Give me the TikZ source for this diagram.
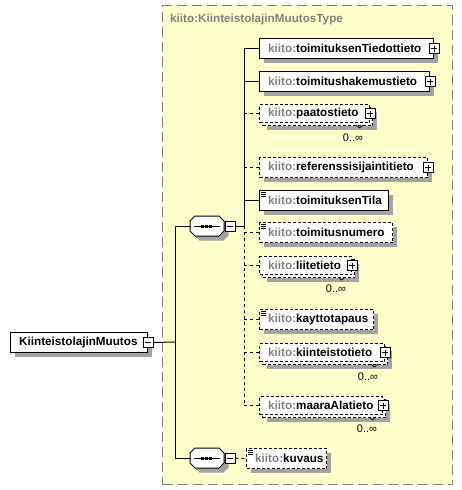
\documentclass[tikz,border=0pt]{standalone}
\usepackage{fontspec}
\setmainfont{Liberation Sans}
\definecolor{yel}{RGB}{255,255,204}
\definecolor{bgray}{RGB}{128,128,128}
\colorlet{shadecol}{black!36}
\newcommand{\pfx}{\textcolor{bgray}{kiito:}}
\newcommand{\shadowrect}[4]{\fill[shadecol] (#1+4.5,#2+4.5) rectangle (#1+#3+4.5,#2+#4+4.5);}
\tikzset{
  every node/.style={font=\fontsize{11.7}{13}\selectfont\bfseries, inner sep=0pt},
  container/.style={draw=bgray, fill=yel, line width=1.3pt, dash pattern=on 10pt off 5pt, anchor=north west},
  ttl/.style={text=bgray, anchor=west},
  ebox/.style={draw=black, fill=white, line width=1pt, anchor=north west, minimum height=20pt},
  obox/.style={ebox, dash pattern=on 3pt off 2pt},
  mfront/.style={draw=black, fill=white, line width=1pt, anchor=north west, minimum height=18pt, dash pattern=on 3pt off 2pt},
  mback/.style={mfront},
  lbl/.style={anchor=west},
  mult/.style={font=\fontsize{11}{13}\selectfont},
  pluss/.style={draw=black, fill=white, line width=1pt, minimum size=10pt,
    path picture={\draw[line width=1pt] ([xshift=2pt]path picture bounding box.west) -- ([xshift=-2pt]path picture bounding box.east);
                  \draw[line width=1pt] ([yshift=-2pt]path picture bounding box.north) -- ([yshift=2pt]path picture bounding box.south);}},
  minuss/.style={draw=black, fill=white, line width=1pt, minimum width=10pt, minimum height=10pt,
    path picture={\draw[line width=1pt] ([xshift=2pt]path picture bounding box.west) -- ([xshift=-2pt]path picture bounding box.east);}},
  seqanchor/.style={minimum width=34pt, minimum height=20pt},
  seqshape/.style={draw=black, fill=white, line width=1pt},
  conn/.style={draw=black, line width=1pt},
  oconn/.style={conn, dash pattern=on 3pt off 3pt},
  simpleicon/.style={line width=0.8pt},
  tick/.style={line width=0.7pt}
}
\begin{document}
\begin{tikzpicture}[x=1pt,y=-1pt]
\useasboundingbox (0,0) rectangle (462,490);
% container
\node[container, minimum width=290pt, minimum height=479pt] (ct) at (162,5) {};
\node[ttl] (title) at (170,19) {kiito:KiinteistolajinMuutosType};

% root
\shadowrect{10}{332}{137}{20}
\node[ebox, minimum width=137pt] (root) at (10,332) {};
\node[lbl] (roott) at (19,342) {KiinteistolajinMuutos};
\node[minuss] (rm) at (root.east) {};

% sequences
\fill[shadecol] (199.5,220.5) -- (223.5,220.5) -- (228.5,225.5) -- (228.5,235.5) -- (223.5,240.5) -- (199.5,240.5) -- (194.5,235.5) -- (194.5,225.5) -- cycle;
\node[seqanchor] (s1) at (207,226) {};
\draw[seqshape] (195,216) -- (219,216) -- (224,221) -- (224,231) -- (219,236) -- (195,236) -- (190,231) -- (190,221) -- cycle;
\draw[line width=1pt] (194,226) -- (220,226);
\fill (200.5,224.5) rectangle ++(3,3);
\fill (204.5,224.5) rectangle ++(3,3);
\fill (208.5,224.5) rectangle ++(3,3);
\node[minuss, anchor=west] (m1) at (224.5,226) {};

\fill[shadecol] (199.5,452.5) -- (223.5,452.5) -- (228.5,457.5) -- (228.5,467.5) -- (223.5,472.5) -- (199.5,472.5) -- (194.5,467.5) -- (194.5,457.5) -- cycle;
\node[seqanchor] (s2) at (207,458) {};
\draw[seqshape] (195,448) -- (219,448) -- (224,453) -- (224,463) -- (219,468) -- (195,468) -- (190,463) -- (190,453) -- cycle;
\draw[line width=1pt] (194,458) -- (220,458);
\fill (200.5,456.5) rectangle ++(3,3);
\fill (204.5,456.5) rectangle ++(3,3);
\fill (208.5,456.5) rectangle ++(3,3);
\node[minuss, anchor=west] (m2) at (224.5,458) {};

% elements
\shadowrect{259}{38}{174}{20}
\node[ebox, minimum width=174pt] (e1) at (259,38) {};
\node[lbl] (e1t) at (268,48) {\pfx toimituksenTiedottieto};
\node[pluss] (e1p) at (e1.east) {};

\shadowrect{259}{71}{170}{20}
\node[ebox, minimum width=170pt] (e2) at (259,71) {};
\node[lbl] (e2t) at (268,81) {\pfx toimitushakemustieto};
\node[pluss] (e2p) at (e2.east) {};

\shadowrect{262}{107}{110}{18}
\node[mback, minimum width=110pt] (e3b) at (262,107) {};
\node[mfront, minimum width=110pt] (e3) at (259,104) {};
\node[lbl] (e3t) at (268,113) {\pfx paatostieto};
\node[pluss] (e3p) at (e3.east) {};
\draw[tick] (356,125) -- (359.5,128) -- (363,125);
\node[mult] (e3m) at (353,138) {0..∞};

\shadowrect{259}{157}{168}{20}
\node[obox, minimum width=168pt] (e4) at (259,157) {};
\node[lbl] (e4t) at (268,167) {\pfx referenssisijaintitieto};
\node[pluss] (e4p) at (e4.east) {};

\shadowrect{259}{190}{129}{20}
\node[ebox, minimum width=129pt] (e5) at (259,190) {};
\draw[simpleicon] (261,192.5) -- (266,192.5) (261,194.5) -- (266,194.5) (261,196.5) -- (266,196.5);
\node[lbl] (e5t) at (268,200) {\pfx toimituksenTila};

\shadowrect{259}{222}{133}{20}
\node[obox, minimum width=133pt] (e6) at (259,222) {};
\draw[simpleicon] (261,224.5) -- (266,224.5) (261,226.5) -- (266,226.5) (261,228.5) -- (266,228.5);
\node[lbl] (e6t) at (268,232) {\pfx toimitusnumero};

\shadowrect{262}{259}{92}{18}
\node[mback, minimum width=92pt] (e7b) at (262,259) {};
\node[mfront, minimum width=92pt] (e7) at (259,256) {};
\node[lbl] (e7t) at (268,265) {\pfx liitetieto};
\node[pluss] (e7p) at (e7.east) {};
\draw[tick] (338,277) -- (341.5,280) -- (345,277);
\node[mult] (e7m) at (336,289) {0..∞};

\shadowrect{259}{309}{114}{20}
\node[obox, minimum width=114pt] (e8) at (259,309) {};
\draw[simpleicon] (261,311.5) -- (266,311.5) (261,313.5) -- (266,313.5) (261,315.5) -- (266,315.5);
\node[lbl] (e8t) at (268,319) {\pfx kayttotapaus};

\shadowrect{262}{346}{125}{18}
\node[mback, minimum width=125pt] (e9b) at (262,346) {};
\node[mfront, minimum width=125pt] (e9) at (259,343) {};
\node[lbl] (e9t) at (268,352) {\pfx kiinteistotieto};
\node[pluss] (e9p) at (e9.east) {};
\draw[tick] (371,364) -- (374.5,367) -- (378,364);
\node[mult] (e9m) at (368,377) {0..∞};

\shadowrect{262}{399}{123}{18}
\node[mback, minimum width=123pt] (e10b) at (262,399) {};
\node[mfront, minimum width=123pt] (e10) at (259,396) {};
\node[lbl] (e10t) at (268,405) {\pfx maaraAlatieto};
\node[pluss] (e10p) at (e10.east) {};
\draw[tick] (369,417) -- (372.5,420) -- (376,417);
\node[mult] (e10m) at (367,429) {0..∞};

\shadowrect{246}{448}{80}{20}
\node[obox, minimum width=80pt] (e11) at (246,448) {};
\draw[simpleicon] (248,450.5) -- (253,450.5) (248,452.5) -- (253,452.5) (248,454.5) -- (253,454.5);
\node[lbl] (e11t) at (255,458) {\pfx kuvaus};

% connectors
\coordinate (j0) at (175,342);
\coordinate (j1) at (244,226);
\draw[conn] (rm.east) -- (j0);
\draw[conn] (s1.west -| j0) -- (s2.west -| j0);
\draw[conn] (s1.west -| j0) -- (s1.west);
\draw[conn] (s2.west -| j0) -- (s2.west);
\draw[conn] (m1.east) -- (j1);
\draw[conn] (e1.west -| j1) -- (j1);
\draw[oconn] (j1) -- (e10.west -| j1);
\draw[conn] (e1.west -| j1) -- (e1.west);
\draw[conn] (e2.west -| j1) -- (e2.west);
\draw[oconn] (e3.west -| j1) -- (e3.west);
\draw[oconn] (e4.west -| j1) -- (e4.west);
\draw[conn] (e5.west -| j1) -- (e5.west);
\draw[oconn] (e6.west -| j1) -- (e6.west);
\draw[oconn] (e7.west -| j1) -- (e7.west);
\draw[oconn] (e8.west -| j1) -- (e8.west);
\draw[oconn] (e9.west -| j1) -- (e9.west);
\draw[oconn] (e10.west -| j1) -- (e10.west);
\draw[oconn] (m2.east) -- (e11.west);
\end{tikzpicture}
\end{document}
